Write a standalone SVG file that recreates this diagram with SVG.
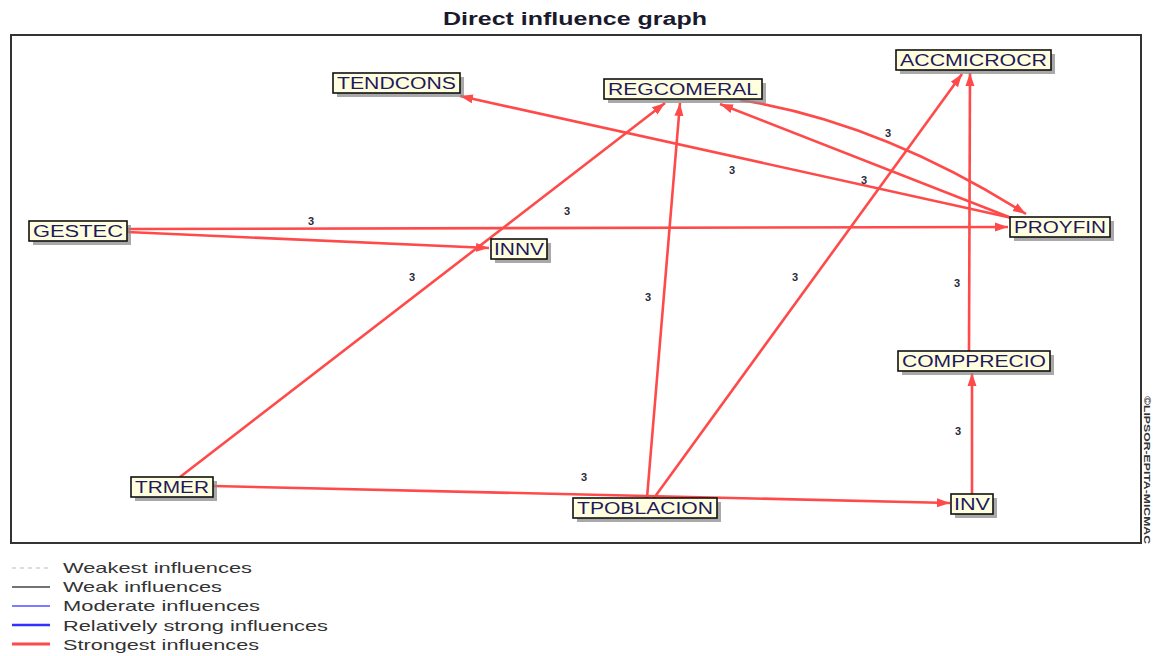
<svg xmlns="http://www.w3.org/2000/svg" width="1156" height="656" viewBox="0 0 1156 656">
<defs>
<marker id="arr" markerUnits="userSpaceOnUse" markerWidth="14" markerHeight="10" refX="13" refY="5" orient="auto">
<path d="M0,0.5 L13,5 L0,9.5 z" fill="#ff4a4a"/>
</marker>
<style>
.e{fill:none;stroke:#ff4a4a;stroke-width:2.6;marker-end:url(#arr)}
.box{fill:#ffffe0;stroke:#111;stroke-width:1.6}
.sh{fill:#8c8c8c;opacity:0.75}
.nt{font-family:"Liberation Sans",Arial,sans-serif;font-size:16px;fill:#1e1a5c}
.lb{font-family:"Liberation Sans",Arial,sans-serif;font-size:11px;font-weight:bold;fill:#2a2a3a}
.lg{font-family:"Liberation Sans",Arial,sans-serif;font-size:15px;fill:#333}
</style>
</defs>
<rect width="1156" height="656" fill="#fff"/>
<text x="575" y="25" text-anchor="middle" font-family="'Liberation Sans',Arial,sans-serif" font-size="18" font-weight="bold" fill="#1a1a2e" textLength="264" lengthAdjust="spacingAndGlyphs">Direct influence graph</text>
<rect x="11" y="35" width="1130" height="508" fill="none" stroke="#333" stroke-width="2"/>
<text transform="translate(1144,396) rotate(90)" font-family="'Liberation Sans',Arial,sans-serif" font-size="9" font-weight="bold" fill="#333" textLength="148" lengthAdjust="spacingAndGlyphs">©LIPSOR-EPITA-MICMAC</text>
<g id="connectors">
<path class="e" d="M127,229 L1008,227"/>
<path class="e" d="M127,232 L489,248"/>
<path class="e" d="M180,477 L665,103"/>
<path class="e" d="M647,498 L680,103"/>
<path class="e" d="M654,498 L962,74"/>
<path class="e" d="M213,486 L950,503"/>
<path class="e" d="M972,494 L972,373"/>
<path class="e" d="M969,351 L970,73"/>
<path class="e" d="M1012,218 L460,96"/>
<path class="e" d="M1014,219 L720,104"/>
<path class="e" d="M740,100 Q880,122 1026,214"/>
<g text-anchor="middle">
<text class="lb" x="311" y="225">3</text>
<text class="lb" x="567" y="215">3</text>
<text class="lb" x="412" y="281">3</text>
<text class="lb" x="648" y="301">3</text>
<text class="lb" x="795" y="281">3</text>
<text class="lb" x="732" y="174">3</text>
<text class="lb" x="888" y="137">3</text>
<text class="lb" x="864" y="184">3</text>
<text class="lb" x="957" y="287">3</text>
<text class="lb" x="958" y="435">3</text>
<text class="lb" x="584" y="481">3</text>
</g>
</g>
<g id="TENDCONS"><rect class="sh" x="337" y="77" width="127" height="20"/><rect class="box" x="333" y="73" width="127" height="20"/><text class="nt" x="337" y="89" textLength="119" lengthAdjust="spacingAndGlyphs">TENDCONS</text></g>
<g id="REGCOMERAL"><rect class="sh" x="608" y="83" width="158" height="20"/><rect class="box" x="604" y="79" width="158" height="20"/><text class="nt" x="608" y="95" textLength="150" lengthAdjust="spacingAndGlyphs">REGCOMERAL</text></g>
<g id="ACCMICROCR"><rect class="sh" x="900" y="54" width="155" height="20"/><rect class="box" x="896" y="50" width="155" height="20"/><text class="nt" x="900" y="66" textLength="147" lengthAdjust="spacingAndGlyphs">ACCMICROCR</text></g>
<g id="GESTEC"><rect class="sh" x="33" y="225" width="98" height="20"/><rect class="box" x="29" y="221" width="98" height="20"/><text class="nt" x="33" y="237" textLength="90" lengthAdjust="spacingAndGlyphs">GESTEC</text></g>
<g id="INNV"><rect class="sh" x="495" y="243" width="56" height="20"/><rect class="box" x="491" y="239" width="56" height="20"/><text class="nt" x="494" y="255" textLength="50" lengthAdjust="spacingAndGlyphs">INNV</text></g>
<g id="PROYFIN"><rect class="sh" x="1014" y="221" width="100" height="20"/><rect class="box" x="1010" y="217" width="100" height="20"/><text class="nt" x="1014" y="233" textLength="92" lengthAdjust="spacingAndGlyphs">PROYFIN</text></g>
<g id="COMPPRECIO"><rect class="sh" x="902" y="355" width="152" height="20"/><rect class="box" x="898" y="351" width="152" height="20"/><text class="nt" x="902" y="367" textLength="144" lengthAdjust="spacingAndGlyphs">COMPPRECIO</text></g>
<g id="TRMER"><rect class="sh" x="135" y="481" width="82" height="20"/><rect class="box" x="131" y="477" width="82" height="20"/><text class="nt" x="135" y="493" textLength="74" lengthAdjust="spacingAndGlyphs">TRMER</text></g>
<g id="TPOBLACION"><rect class="sh" x="577" y="502" width="144" height="20"/><rect class="box" x="573" y="498" width="144" height="20"/><text class="nt" x="577" y="514" textLength="136" lengthAdjust="spacingAndGlyphs">TPOBLACION</text></g>
<g id="INV"><rect class="sh" x="955" y="498" width="42" height="20"/><rect class="box" x="951" y="494" width="42" height="20"/><text class="nt" x="954" y="510" textLength="36" lengthAdjust="spacingAndGlyphs">INV</text></g>
<g id="legend">
<line x1="12" y1="568" x2="50" y2="568" stroke="#bbb" stroke-width="1.2" stroke-dasharray="4,4"/>
<line x1="12" y1="587" x2="50" y2="587" stroke="#444" stroke-width="1.3"/>
<line x1="12" y1="606" x2="50" y2="606" stroke="#5050ff" stroke-width="1.3"/>
<line x1="12" y1="625" x2="50" y2="625" stroke="#3030ff" stroke-width="2.5"/>
<line x1="12" y1="644" x2="50" y2="644" stroke="#ff4a4a" stroke-width="3"/>
<text class="lg" x="63" y="573" textLength="189" lengthAdjust="spacingAndGlyphs">Weakest influences</text>
<text class="lg" x="63" y="592" textLength="159" lengthAdjust="spacingAndGlyphs">Weak influences</text>
<text class="lg" x="63" y="611" textLength="197" lengthAdjust="spacingAndGlyphs">Moderate influences</text>
<text class="lg" x="63" y="631" textLength="265" lengthAdjust="spacingAndGlyphs">Relatively strong influences</text>
<text class="lg" x="63" y="650" textLength="196" lengthAdjust="spacingAndGlyphs">Strongest influences</text>
</g>
</svg>
